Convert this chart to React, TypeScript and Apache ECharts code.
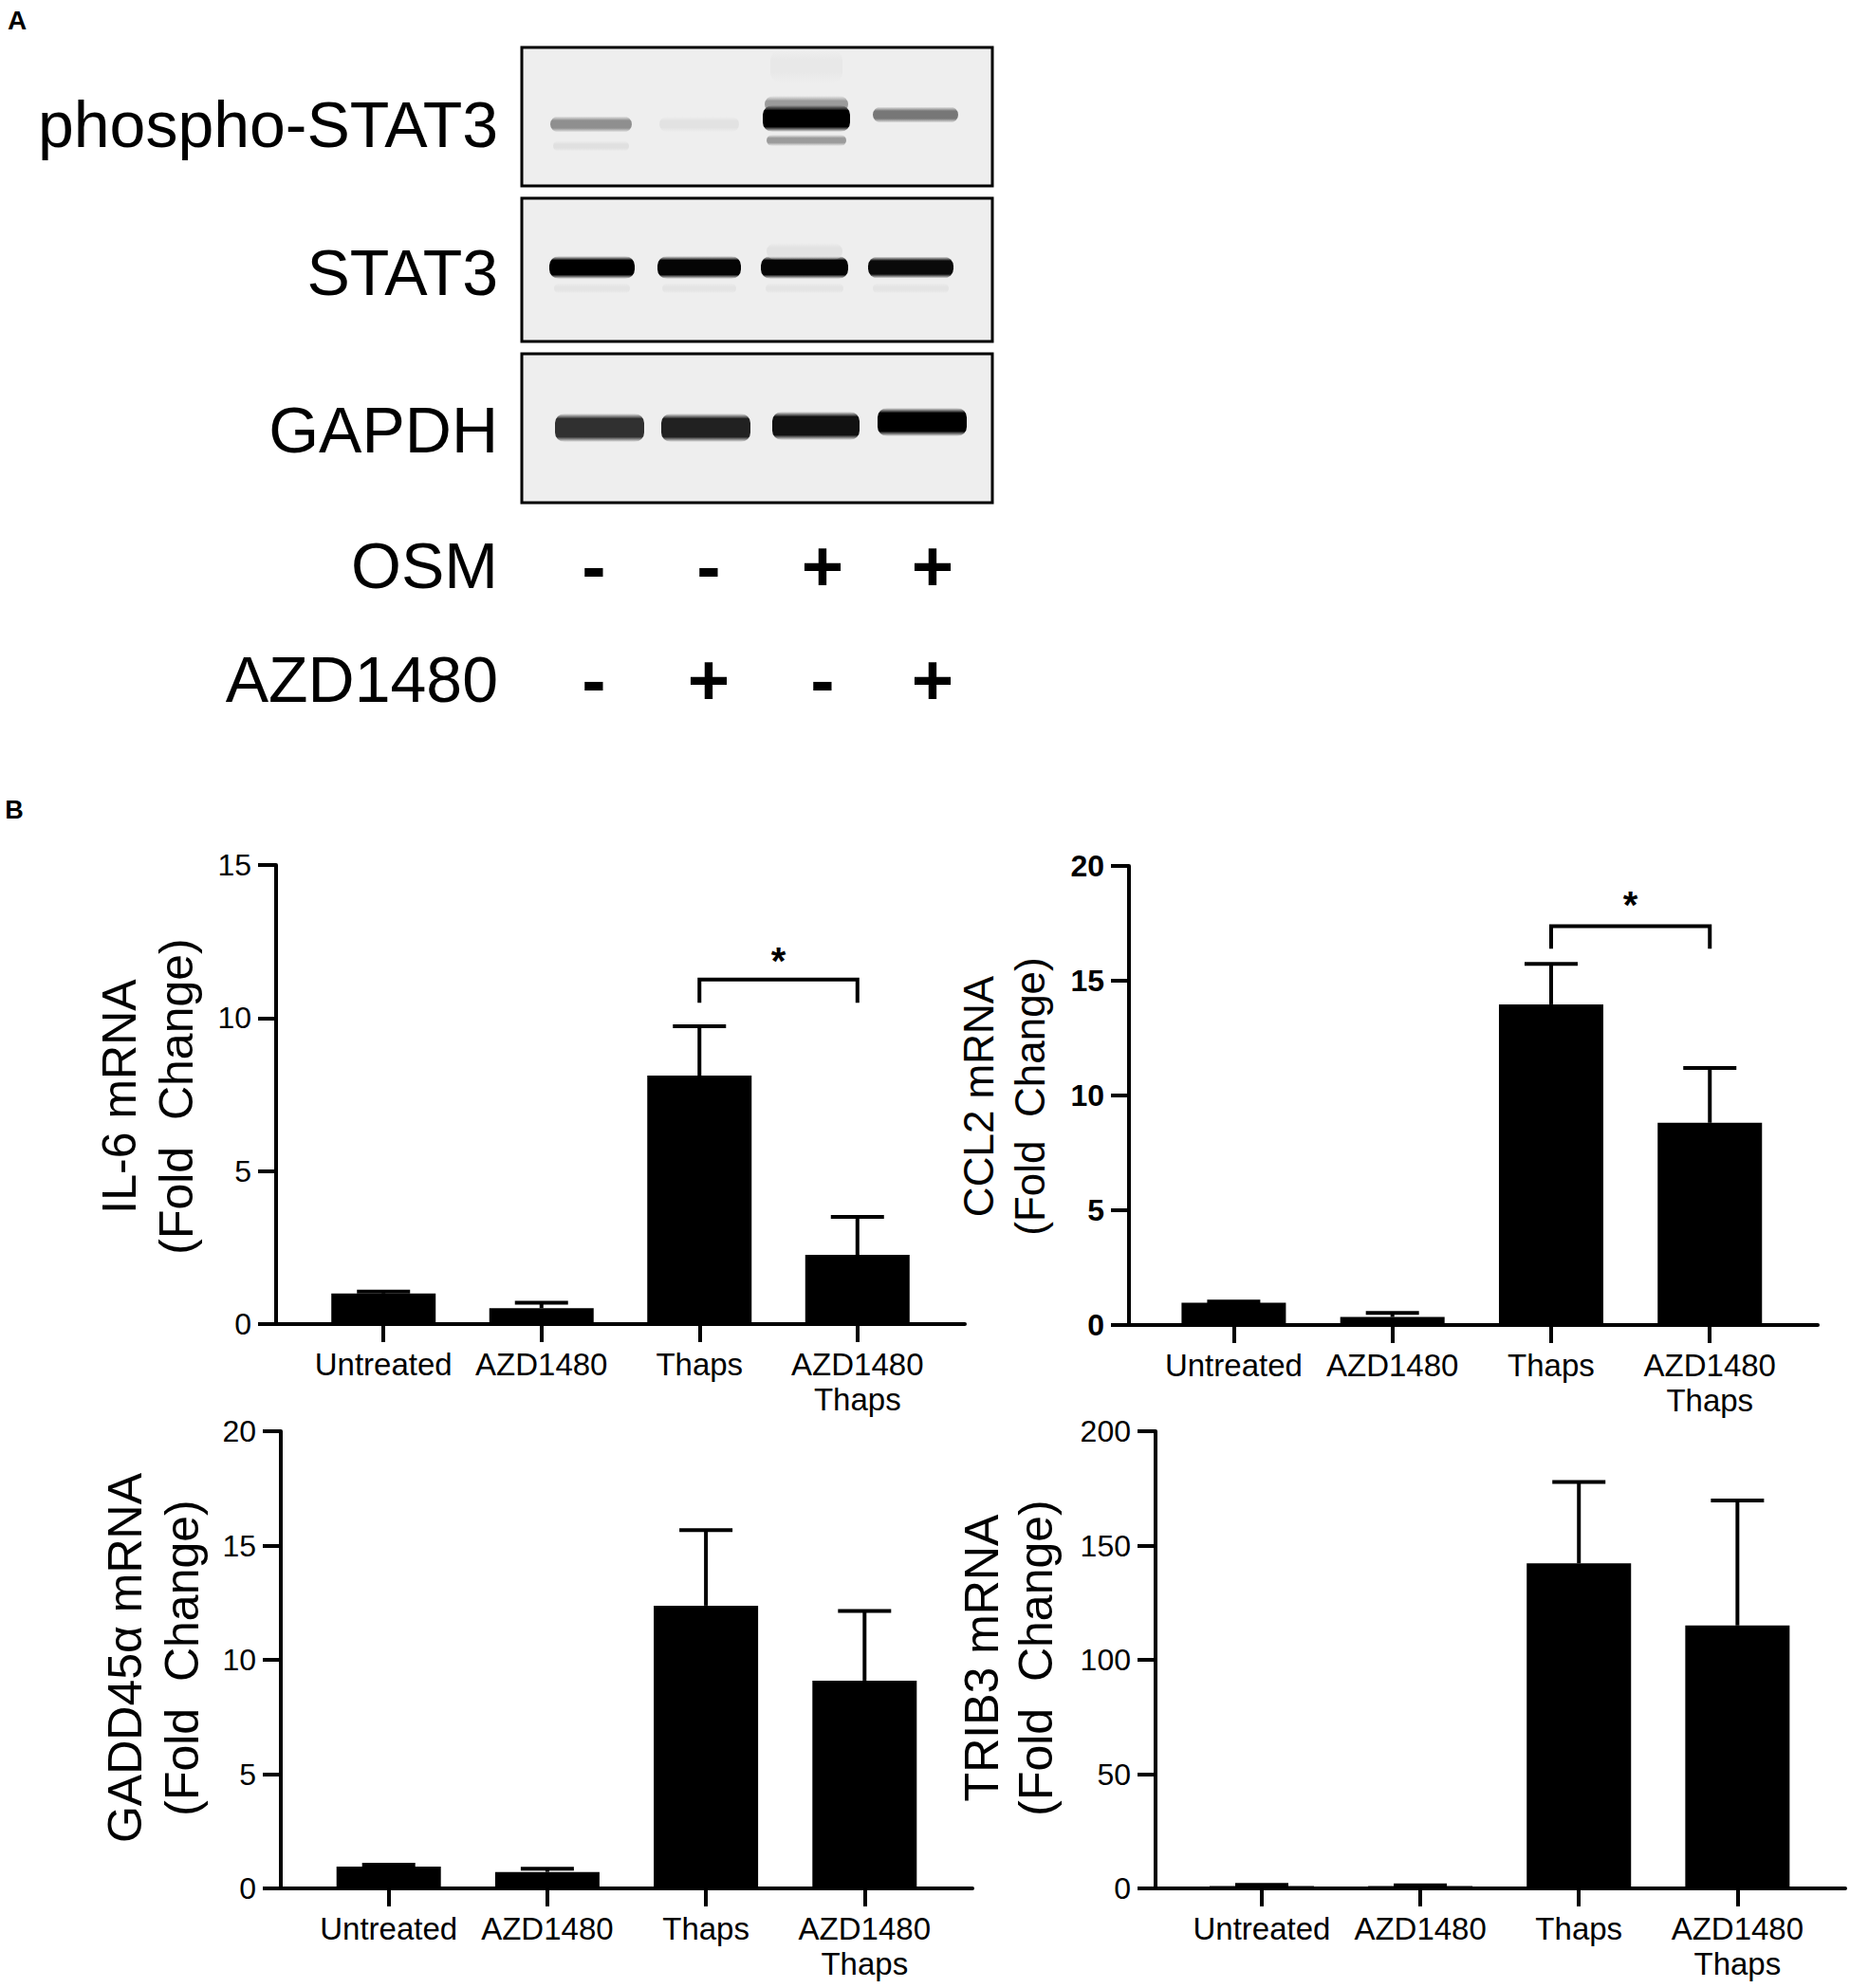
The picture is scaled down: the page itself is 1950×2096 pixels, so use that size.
import React, { useEffect, useRef } from 'react';
import * as echarts from 'echarts';

// ---------------- data ----------------
const categories = ['Untreated', 'AZD1480', 'Thaps', 'AZD1480\nThaps'];
const catIndex = [0, 1, 2, 3];

const il6Mean = [1.0, 0.52, 8.12, 2.26];
const il6Err = [0.06, 0.18, 1.61, 1.24];
const ccl2Mean = [0.97, 0.35, 13.97, 8.81];
const ccl2Err = [0.05, 0.18, 1.76, 2.39];
const gaddMean = [0.95, 0.72, 12.37, 9.09];
const gaddErr = [0.09, 0.14, 3.3, 3.05];
const trib3Mean = [1.0, 1.0, 142.2, 115.0];
const trib3Err = [0.6, 0.4, 35.6, 54.7];

// significance: [fromCat, toCat, bracketLine, legEnd, starY]
const il6Sig = [2, 3, 11.26, 10.5, 12.0];
const ccl2Sig = [2, 3, 17.38, 16.39, 18.46];

const yTicksIL6 = [0, 15, 5];
const yTicksCCL2 = [0, 20, 5];
const yTicksGADD = [0, 20, 5];
const yTicksTRIB3 = [0, 200, 50];

const blotProteins = ['phospho-STAT3', 'STAT3', 'GAPDH'];
const pstat3Intensity = [0.4, 0.05, 1.0, 0.5];
const stat3Intensity = [1.0, 0.98, 0.98, 0.96];
const gapdhIntensity = [0.8, 0.86, 0.93, 1.0];
const treatmentNames = ['OSM', 'AZD1480'];
const osmRow = ['-', '-', '+', '+'];
const azdRow = ['-', '+', '-', '+'];

// ---------------- layout ----------------
const FONT = '"Liberation Sans", Arial, Helvetica, sans-serif';

const panels = [
  { title: 'IL-6 mRNA\n(Fold  Change)', mean: il6Mean, err: il6Err, ticks: yTicksIL6, sig: il6Sig,
    left: 291, top: 912, width: 726, height: 484, xMin: -0.68, bold: false,
    titleX: 156, titleY: 1156, titleSize: 50, titleLH: 60 },
  { title: 'CCL2 mRNA\n(Fold  Change)', mean: ccl2Mean, err: ccl2Err, ticks: yTicksCCL2, sig: ccl2Sig,
    left: 1190, top: 913, width: 726, height: 484, xMin: -0.66, bold: true,
    titleX: 1058, titleY: 1156, titleSize: 44, titleLH: 54 },
  { title: 'GADD45\u03b1 mRNA\n(Fold  Change)', mean: gaddMean, err: gaddErr, ticks: yTicksGADD, sig: null,
    left: 296, top: 1509, width: 729, height: 482, xMin: -0.68, bold: false,
    titleX: 162, titleY: 1748, titleSize: 50, titleLH: 60 },
  { title: 'TRIB3 mRNA\n(Fold  Change)', mean: trib3Mean, err: trib3Err, ticks: yTicksTRIB3, sig: null,
    left: 1218, top: 1509, width: 727, height: 482, xMin: -0.67, bold: false,
    titleX: 1063, titleY: 1748, titleSize: 50, titleLH: 57 },
];

const blotBoxes = [
  { x: 550, y: 50, w: 496, h: 146, labelY: 131 },
  { x: 550, y: 209, w: 496, h: 151, labelY: 287 },
  { x: 550, y: 373, w: 496, h: 157, labelY: 453 },
];
const pstatGeom = { cx: [623, 737, 850, 965], cy: [131, 131, 125, 121], w: [86, 84, 92, 90], h: [7, 6, 16, 7] };
const stat3Geom = { cx: [624, 737, 848, 960], cy: [282, 282, 282, 282], w: [90, 88, 92, 90], h: [14, 14, 14, 13] };
const gapdhGeom = { cx: [632, 744, 860, 972], cy: [451, 451, 449, 445], w: [94, 94, 92, 94], h: [18, 18, 18, 18] };
const signX = [626, 747, 867, 983];
const treatY = [596, 716];

const BG = 238;
const grayRGB = (i: number) => Math.round(BG - BG * i);

// soft band: vertical gradient fading into the membrane background
const band = (cx: number, cy: number, w: number, h: number, intensity: number, soft: number) => {
  const g = grayRGB(intensity);
  const H = h + 2 * soft;
  const f = soft / H;
  const core = `rgba(${g},${g},${g},1)`;
  const clear = `rgba(${g},${g},${g},0)`;
  return {
    type: 'rect',
    z: 3,
    shape: { x: cx - w / 2, y: cy - H / 2, width: w, height: H, r: Math.min(H / 2, 10) },
    style: {
      fill: new echarts.graphic.LinearGradient(0, 0, 0, 1, [
        { offset: 0, color: clear },
        { offset: f * 0.9, color: core },
        { offset: 1 - f * 0.9, color: core },
        { offset: 1, color: clear },
      ]),
    },
  };
};

const txt = (text: string, x: number, y: number, size: number, align: string, extra: any = {}) => ({
  type: 'text',
  x,
  y,
  z: 5,
  ...extra,
  style: {
    text,
    fontSize: size,
    fontFamily: FONT,
    fontWeight: extra.fontWeight || 'normal',
    fill: '#000',
    textAlign: align,
    textVerticalAlign: 'middle',
    align,
    verticalAlign: 'middle',
    lineHeight: extra.lineHeight,
  },
});

function buildGraphic() {
  const els: any[] = [];
  els.push(txt('A', 18, 21, 28, 'center', { fontWeight: 'bold' }));
  els.push(txt('B', 15, 854, 27, 'center', { fontWeight: 'bold' }));

  blotBoxes.forEach((b, i) => {
    els.push({
      type: 'rect', z: 1,
      shape: { x: b.x, y: b.y, width: b.w, height: b.h },
      style: { fill: `rgb(${BG},${BG},${BG})`, stroke: '#000', lineWidth: 3 },
    });
    els.push(txt(blotProteins[i], 525, b.labelY, 68, 'right'));
  });

  // phospho-STAT3 bands
  els.push(band(pstatGeom.cx[2], 70, 76, 10, 0.025, 12));
  els.push(band(pstatGeom.cx[2], 110, 88, 6, 0.35, 6));
  els.push(band(pstatGeom.cx[2], 148, 84, 4, 0.35, 4));
  els.push(band(pstatGeom.cx[0], 154, 80, 3, 0.06, 4));
  pstat3Intensity.forEach((v, j) => {
    els.push(band(pstatGeom.cx[j], pstatGeom.cy[j], pstatGeom.w[j], pstatGeom.h[j], v, j === 2 ? 6 : 5));
  });

  stat3Intensity.forEach((v, j) => {
    els.push(band(stat3Geom.cx[j], 304, stat3Geom.w[j] - 10, 3, 0.04, 4));
    els.push(band(stat3Geom.cx[j], stat3Geom.cy[j], stat3Geom.w[j], stat3Geom.h[j], v, 5));
  });
  els.push(band(stat3Geom.cx[2], 265, 80, 6, 0.05, 6));

  gapdhIntensity.forEach((v, j) => {
    els.push(band(gapdhGeom.cx[j], gapdhGeom.cy[j], gapdhGeom.w[j], gapdhGeom.h[j], v, 6));
  });

  // treatments
  [osmRow, azdRow].forEach((row, r) => {
    els.push(txt(treatmentNames[r], 525, treatY[r], 68, 'right'));
    row.forEach((s, j) => {
      els.push(txt(s, signX[j], treatY[r], 76, 'center', { fontWeight: 'bold' }));
    });
  });

  // y-axis titles
  panels.forEach((p) => {
    els.push(txt(p.title, p.titleX, p.titleY, p.titleSize, 'center', { rotation: Math.PI / 2, lineHeight: p.titleLH }));
  });
  return els;
}

function buildOption() {
  const lineStyle = { color: '#000', width: 4 };
  const series: any[] = [];
  panels.forEach((p, i) => {
    series.push({
      type: 'bar',
      xAxisIndex: i,
      yAxisIndex: i,
      barWidth: 110,
      itemStyle: { color: '#000' },
      data: p.mean.map((v, j) => [catIndex[j], v]),
      z: 2,
    });
    series.push({
      type: 'custom',
      xAxisIndex: i,
      yAxisIndex: i,
      z: 3,
      encode: { x: 0, y: 1 },
      data: p.mean.map((v, j) => [catIndex[j], v, p.err[j]]),
      renderItem: (_params: any, api: any) => {
        const x = api.value(0);
        const m = api.value(1);
        const e = api.value(2);
        const p0 = api.coord([x, m]);
        const p1 = api.coord([x, m + e]);
        return {
          type: 'group',
          children: [
            { type: 'line', shape: { x1: p0[0], y1: p0[1], x2: p1[0], y2: p1[1] }, style: { stroke: '#000', lineWidth: 4 } },
            { type: 'line', shape: { x1: p1[0] - 28, y1: p1[1], x2: p1[0] + 28, y2: p1[1] }, style: { stroke: '#000', lineWidth: 4 } },
          ],
        };
      },
    });
    if (p.sig) {
      series.push({
        type: 'custom',
        xAxisIndex: i,
        yAxisIndex: i,
        z: 3,
        encode: { x: [0, 1], y: [2, 3, 4] },
        data: [p.sig],
        renderItem: (_params: any, api: any) => {
          const a = api.value(0);
          const b = api.value(1);
          const ln = api.value(2);
          const lg = api.value(3);
          const st = api.value(4);
          const q1 = api.coord([a, lg]);
          const q2 = api.coord([a, ln]);
          const q3 = api.coord([b, ln]);
          const q4 = api.coord([b, lg]);
          const qs = api.coord([(a + b) / 2, st]);
          return {
            type: 'group',
            children: [
              { type: 'polyline', shape: { points: [q1, q2, q3, q4] }, style: { stroke: '#000', lineWidth: 4, fill: 'none' } },
              {
                type: 'text', x: qs[0], y: qs[1] + 4,
                style: { text: '*', fontSize: 40, fontWeight: 'bold', fontFamily: FONT, fill: '#000', align: 'center', verticalAlign: 'middle', textAlign: 'center', textVerticalAlign: 'middle' },
              },
            ],
          };
        },
      });
    }
  });

  return {
    animation: false,
    backgroundColor: '#ffffff',
    grid: panels.map((p) => ({ left: p.left, top: p.top, width: p.width, height: p.height, containLabel: false })),
    xAxis: panels.map((p, i) => ({
      type: 'value',
      gridIndex: i,
      min: p.xMin,
      max: 3.68,
      axisLine: { show: true, onZero: false, lineStyle },
      axisTick: { show: true, customValues: catIndex, length: 19, lineStyle },
      axisLabel: {
        show: true,
        customValues: catIndex,
        formatter: (v: number) => categories[Math.round(v)] ?? '',
        margin: 24,
        fontSize: 33,
        lineHeight: 37,
        color: '#000',
        fontFamily: FONT,
      },
      splitLine: { show: false },
    })),
    yAxis: panels.map((p, i) => ({
      type: 'value',
      gridIndex: i,
      min: p.ticks[0],
      max: p.ticks[1],
      interval: p.ticks[2],
      axisLine: { show: true, onZero: false, lineStyle },
      axisTick: { show: true, length: 19, lineStyle },
      axisLabel: {
        margin: 26,
        fontSize: 32,
        fontWeight: p.bold ? 'bold' : 'normal',
        color: '#000',
        fontFamily: FONT,
      },
      splitLine: { show: false },
    })),
    series,
    graphic: { elements: buildGraphic() },
  };
}

export default function App() {
  const ref = useRef<HTMLDivElement>(null);
  useEffect(() => {
    if (!ref.current) return;
    const chart = echarts.init(ref.current, undefined, { renderer: 'svg' });
    chart.setOption(buildOption() as any);
    return () => chart.dispose();
  }, []);
  return (
    <div
      ref={ref}
      style={{ position: 'absolute', left: 0, top: 0, width: 1950, height: 2096, background: '#fff' }}
    />
  );
}
